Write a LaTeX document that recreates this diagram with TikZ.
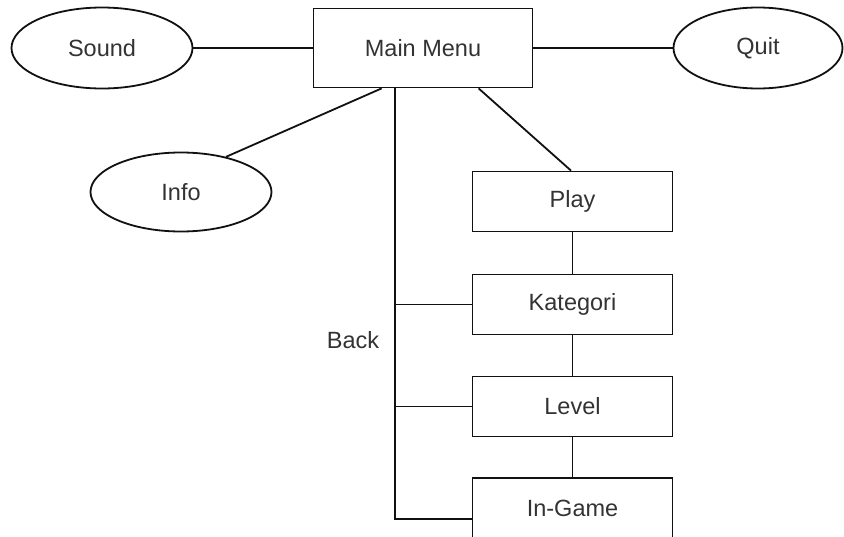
\documentclass[tikz,border=0pt]{standalone}
\usepackage{fontspec}
\setmainfont{Liberation Sans}
\usetikzlibrary{shapes.geometric,calc}
\definecolor{txt}{HTML}{333333}
\definecolor{ln}{HTML}{111111}
\begin{document}
\begin{tikzpicture}[x=1pt,y=-1pt,line width=1.8pt,
  every node/.style={text=txt,font=\fontsize{23.5}{28}\selectfont},
  box/.style={draw=ln,rectangle,inner sep=0pt},
  oval/.style={draw=ln,ellipse,inner sep=0pt},
  conn/.style={draw=ln,line width=1.8pt}]
\useasboundingbox (0,0) rectangle (844,536);
\fill[white] (0,0) rectangle (844,536);

\node[box,minimum width=219pt,minimum height=79pt] (main) at (423,48) {Main Menu};
\node[oval,minimum width=181pt,minimum height=81pt] (sound) at (102,48) {Sound};
\node[oval,minimum width=169pt,minimum height=81pt] (quit) at (758,48) {Quit};
\node[oval,minimum width=181pt,minimum height=79pt] (info) at (181,192) {Info};
\node[box,minimum width=200pt,minimum height=60pt] (play) at (572.5,201.5) {Play};
\node[box,minimum width=200pt,minimum height=60pt] (kat) at (572.5,304.5) {Kategori};
\node[box,minimum width=200pt,minimum height=60pt] (lev) at (572.5,406.5) {Level};
\node[box,minimum width=200pt,minimum height=60pt] (ing) at (572.5,508) {In-Game};
\node (back) at (353,340) {Back};

\coordinate (mi) at ($(main.south west)+(69,0)$);
\coordinate (bk) at ($(main.south west)+(82,0)$);
\coordinate (mp) at ($(main.south west)+(166,0)$);
\coordinate (jg) at ($(ing.west)+(0,11)$);

\draw[conn] (sound.east) -- (main.west);
\draw[conn] (main.east) -- (quit.west);
\draw[conn] (mi) -- (info.38);
\draw[conn] (mp) -- ($(play.north)+(-1.5,0)$);
\draw[conn] (bk) |- (jg);
\draw[conn] (bk |- kat.west) -- (kat.west);
\draw[conn] (bk |- lev.west) -- (lev.west);
\draw[conn] (play.south) -- (kat.north);
\draw[conn] (kat.south) -- (lev.north);
\draw[conn] (lev.south) -- (ing.north);
\end{tikzpicture}
\end{document}
